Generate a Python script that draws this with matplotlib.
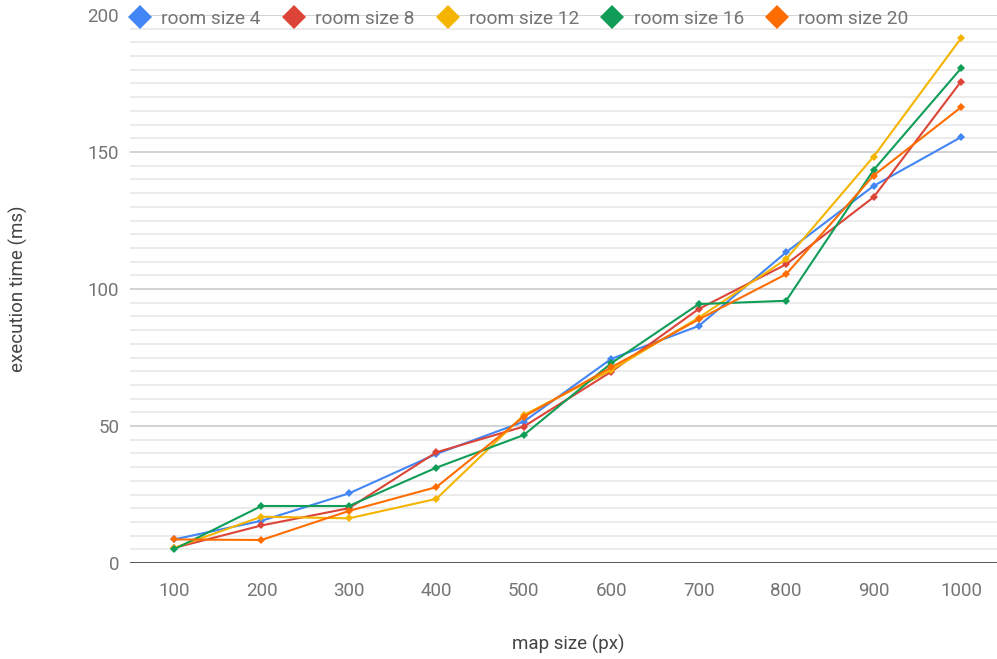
import matplotlib
matplotlib.use("Agg")
import matplotlib.pyplot as plt
from matplotlib.lines import Line2D
import numpy as np

plt.rcParams['font.family'] = ['Roboto', 'DejaVu Sans']

# map sizes (px) on the category axis
map_sizes = ["100", "200", "300", "400", "500", "600", "700", "800", "900", "1000"]

# execution time (ms) per room size
room_size_4 = [8.6, 15.4, 25.4, 39.8, 51.6, 74.5, 86.5, 113.4, 137.6, 155.4]
room_size_8 = [5.5, 13.7, 20.0, 40.4, 49.8, 69.8, 92.7, 109.0, 133.5, 175.7]
room_size_12 = [5.5, 16.9, 16.3, 23.4, 54.0, 70.4, 89.5, 110.9, 148.3, 191.5]
room_size_16 = [5.0, 20.8, 20.8, 34.8, 46.7, 72.9, 94.5, 95.7, 143.4, 180.5]
room_size_20 = [8.6, 8.4, 19.0, 27.7, 53.4, 71.4, 88.9, 105.4, 141.4, 166.3]

series_names = ["room size 4", "room size 8", "room size 12", "room size 16", "room size 20"]
series_values = [room_size_4, room_size_8, room_size_12, room_size_16, room_size_20]
colors = ["#4285F4", "#DB4437", "#F4B400", "#0F9D58", "#FF6D00"]

y_major = [0, 50, 100, 150, 200]

W, H = 997, 659
fig = plt.figure(figsize=(W / 100, H / 100), dpi=100)
left, right_edge = 130.3, 1004.7
bottom_px, top_px = 563, 15
ax = fig.add_axes([left / W, 1 - bottom_px / H, (right_edge - left) / W, (bottom_px - top_px) / H])

x = np.arange(len(map_sizes))
for name, vals, c in zip(series_names, series_values, colors):
    ax.plot(x, vals, color=c, lw=1.5, marker='D', markersize=4, markeredgewidth=0,
            label=name, zorder=3)

ax.set_xlim(-0.5, len(map_sizes) - 0.5)
ax.set_ylim(0, 200)

ax.set_xticks(x)
ax.set_xticklabels(map_sizes)
ax.set_yticks(y_major)
ax.set_yticklabels([str(v) for v in y_major])
ax.set_yticks([v for v in range(0, 201, 5) if v % 50], minor=True)

ax.grid(axis='y', which='major', color='#cccccc', lw=1.2, zorder=0)
ax.grid(axis='y', which='minor', color='#e8e8e8', lw=1.2, zorder=0)
ax.grid(axis='x', visible=False)
ax.axhline(0, color='#333333', lw=1.8, zorder=4)

for s in ax.spines.values():
    s.set_visible(False)
ax.tick_params(axis='both', which='both', length=0, labelsize=13.5, colors='#757575')
ax.tick_params(axis='x', pad=14)
ax.tick_params(axis='y', pad=8)

fig.text(568 / W, 1 - 644 / H, "map size (px)", ha='center', va='center',
         fontsize=13.5, color='#444444')
fig.text(18 / W, 1 - 289 / H, "execution time (ms)", ha='center', va='center',
         rotation=90, fontsize=13.5, color='#444444')

handles = [Line2D([], [], color=c, marker='D', markersize=12, linestyle='none',
                  markeredgewidth=0) for c in colors]
fig.legend(handles, series_names, loc='center left', bbox_to_anchor=(130 / W, 1 - 19 / H),
           ncol=5, frameon=False, fontsize=13.8, labelcolor='#757575',
           handlelength=1.0, handletextpad=0.6, columnspacing=1.25, borderaxespad=0,
           borderpad=0)

fig.savefig("out.png", dpi=100)
